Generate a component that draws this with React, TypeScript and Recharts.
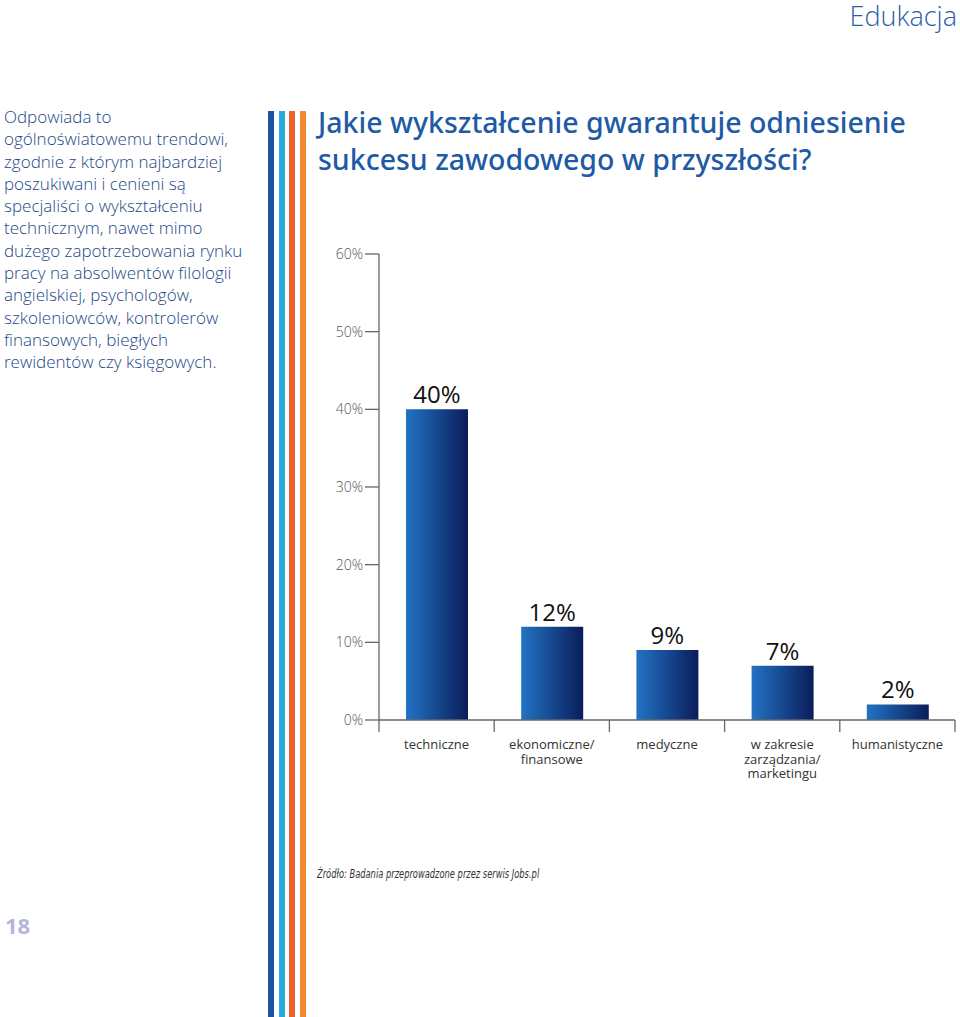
import React from "react";
import { BarChart, Bar, XAxis, YAxis, LabelList } from "recharts";

const categories = ["techniczne", "ekonomiczne/\nfinansowe", "medyczne", "w zakresie\nzarządzania/\nmarketingu", "humanistyczne"];
const shares = [40, 12, 9, 7, 2];
const yTicks = [0, 10, 20, 30, 40, 50, 60];

const title = ["Jakie wykształcenie gwarantuje odniesienie", "sukcesu zawodowego w przyszłości?"];
const introLines = [
  "Odpowiada to",
  "ogólnoświatowemu trendowi,",
  "zgodnie z którym najbardziej",
  "poszukiwani i cenieni są",
  "specjaliści o wykształceniu",
  "technicznym, nawet mimo",
  "dużego zapotrzebowania rynku",
  "pracy na absolwentów filologii",
  "angielskiej, psychologów,",
  "szkoleniowców, kontrolerów",
  "finansowych, biegłych",
  "rewidentów czy księgowych.",
];
const stripeColors = ["#1b53a0", "#2ba8df", "#e8622c", "#f08b2e"];

const data = categories.map((c, i) => ({ name: c, value: shares[i] }));

const font = "'Open Sans', 'Noto Sans', sans-serif";

function CategoryTick(props: any) {
  const { x, y, payload, index } = props;
  const bw = 115.2;
  const lines = String(payload.value).split("\n");
  const isLast = index === categories.length - 1;
  return (
    <g>
      <line x1={x - bw / 2} x2={x - bw / 2} y1={y - 8} y2={y + 4} stroke="#666" strokeWidth={1.3} />
      {isLast && <line x1={x + bw / 2} x2={x + bw / 2} y1={y - 8} y2={y + 4} stroke="#666" strokeWidth={1.3} />}
      {lines.map((l, i) => (
        <text key={i} x={x} y={y + 21 + i * 14.5} textAnchor="middle" fontSize={13} fill="#333" fontFamily={font}>
          {l}
        </text>
      ))}
    </g>
  );
}

export default function App() {
  return (
    <div style={{ position: "absolute", left: 0, top: 0, width: 960, height: 1017, background: "#fff", overflow: "hidden", fontFamily: font }}>
      <div style={{ position: "absolute", right: 3, top: 0, fontSize: 27, fontWeight: 300, color: "#2a5ea8", lineHeight: "31px" }}>Edukacja</div>

      <div style={{ position: "absolute", left: 4, top: 106, fontSize: 17, fontWeight: 300, lineHeight: "22.3px", color: "#1c4886" }}>
        {introLines.map((l, i) => (
          <div key={i} style={{ whiteSpace: "nowrap" }}>{l}</div>
        ))}
      </div>

      <div style={{ position: "absolute", left: 5, top: 910, fontSize: 22, fontWeight: 700, color: "#b3b6da" }}>18</div>

      {stripeColors.map((c, i) => (
        <div key={c} style={{ position: "absolute", left: 268 + i * 10.5, top: 111, width: 6, height: 906, background: c }} />
      ))}

      <div style={{ position: "absolute", left: 318, top: 104, fontSize: 28.5, fontWeight: 500, lineHeight: "37px", color: "#1e5aa6", fontFamily: "'Noto Sans', sans-serif" }}>
        {title.map((l, i) => (
          <div key={i} style={{ whiteSpace: "nowrap" }}>{l}</div>
        ))}
      </div>

      <div style={{ position: "absolute", left: 300, top: 200 }}>
        <BarChart width={660} height={620} data={data} margin={{ top: 54, right: 5, left: 0, bottom: 0 }}>
          <defs>
            <linearGradient id="barGrad" x1="0" y1="0" x2="1" y2="0">
              <stop offset="0%" stopColor="#2273c4" />
              <stop offset="100%" stopColor="#0a1d5a" />
            </linearGradient>
          </defs>
          <YAxis
            width={79}
            domain={[0, 60]}
            ticks={yTicks}
            interval={0}
            tickFormatter={(v: number) => `${v}%`}
            axisLine={{ stroke: "#666", strokeWidth: 1.3 }}
            tickLine={{ stroke: "#666", strokeWidth: 1.3 }}
            tickSize={14}
            tick={{ fontSize: 14, fill: "#555", fontFamily: font, fontWeight: 300 }}
          />
          <XAxis
            dataKey="name"
            height={100}
            interval={0}
            axisLine={{ stroke: "#666", strokeWidth: 1.3 }}
            tickLine={false}
            tick={<CategoryTick />}
          />
          <Bar dataKey="value" fill="url(#barGrad)" barSize={62} isAnimationActive={false}>
            <LabelList dataKey="value" position="top" offset={6} formatter={(v: any) => `${v}%`} style={{ fontSize: 24, fill: "#111", fontFamily: font }} />
          </Bar>
        </BarChart>
      </div>

      <div style={{ position: "absolute", left: 317, top: 866, fontSize: 12.5, fontStyle: "italic", color: "#333", fontFamily: "'DejaVu Sans Condensed', sans-serif", transform: "scaleX(0.74)", transformOrigin: "left top", whiteSpace: "nowrap" }}>
        Źródło: Badania przeprowadzone przez serwis Jobs.pl
      </div>
    </div>
  );
}
